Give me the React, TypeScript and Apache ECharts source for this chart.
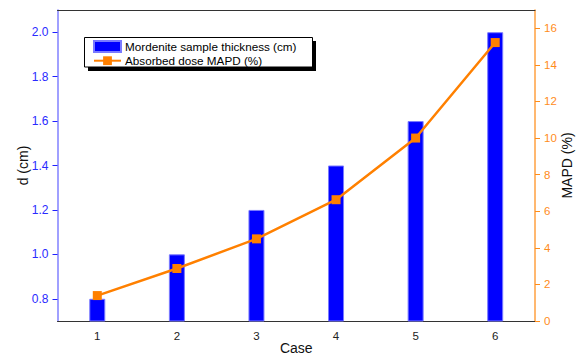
import React, { useEffect, useRef } from "react";
import * as echarts from "echarts";

const cases = ["1", "2", "3", "4", "5", "6"];
const thickness = [0.8, 1.0, 1.2, 1.4, 1.6, 2.0];
const mapd = [1.39, 2.87, 4.49, 6.63, 10.0, 15.22];
const leftTicks = [0.8, 1.0, 1.2, 1.4, 1.6, 1.8, 2.0];
const rightTicks = [0, 2, 4, 6, 8, 10, 12, 14, 16];

const FONT = "Liberation Sans, Arial, sans-serif";

export default function App() {
  const ref = useRef<HTMLDivElement>(null);
  useEffect(() => {
    if (!ref.current) return;
    const chart = echarts.init(ref.current, null, { renderer: "svg" });
    chart.setOption({
      animation: false,
      textStyle: { fontFamily: FONT },
      grid: { left: 57.5, right: 41, top: 10, bottom: 37, containLabel: false, outerBoundsMode: "none" },
      legend: {
        orient: "vertical",
        left: 84,
        top: 37,
        padding: [3, 13, 1, 9],
        itemGap: 1.7,
        itemWidth: 27,
        itemHeight: 11,
        backgroundColor: "transparent",
        borderWidth: 0,
        z: 10,
        textStyle: { fontFamily: FONT, fontSize: 11.7, color: "#000", padding: [0, 0, 0, -1] },
        data: [
          { name: "Mordenite sample thickness (cm)", icon: "rect" },
          { name: "Absorbed dose MAPD (%)" },
        ],
      },
      graphic: [
        {
          type: "rect",
          shape: { x: 88, y: 41, width: 228, height: 30 },
          style: { fill: "#000" },
          z: 5,
        },
        {
          type: "rect",
          shape: { x: 84.5, y: 37.5, width: 228, height: 29.5 },
          style: { fill: "#fff", stroke: "#000", lineWidth: 1 },
          z: 6,
        },
      ],
      xAxis: [
        {
          type: "category",
          data: cases,
          position: "bottom",
          name: "Case",
          nameLocation: "middle",
          nameGap: 20,
          nameMoveOverlap: false,
          nameTextStyle: { fontSize: 14, color: "#111", fontFamily: FONT },
          axisLine: { lineStyle: { color: "#333", width: 1 } },
          axisTick: { alignWithLabel: true, length: 5, lineStyle: { color: "#333" } },
          axisLabel: { fontSize: 11.5, color: "#222", margin: 9, fontFamily: FONT },
          splitLine: { show: false },
        },
        {
          type: "category",
          data: cases,
          position: "top",
          axisLine: { lineStyle: { color: "#333", width: 1 } },
          axisTick: { alignWithLabel: true, inside: true, length: 5, lineStyle: { color: "#333" } },
          axisLabel: { show: false },
          splitLine: { show: false },
        },
      ],
      yAxis: [
        {
          type: "value",
          position: "left",
          min: 0.7,
          max: 2.1,
          name: "d (cm)",
          nameLocation: "middle",
          nameRotate: 90,
          nameGap: 27.5,
          nameMoveOverlap: false,
          nameTextStyle: { fontSize: 14, color: "#111", fontFamily: FONT },
          axisLine: { show: true, lineStyle: { color: "#8080ff", width: 1.5 } },
          axisTick: { show: true, length: 5, customValues: leftTicks, lineStyle: { color: "#2020ff" } },
          axisLabel: {
            fontSize: 12,
            color: "#2a2aff",
            margin: 9,
            customValues: leftTicks,
            formatter: (v: number) => v.toFixed(1),
            fontFamily: FONT,
          },
          splitLine: { show: false },
        },
        {
          type: "value",
          position: "right",
          min: 0,
          max: 17,
          name: "MAPD (%)",
          nameLocation: "middle",
          nameRotate: 90,
          nameGap: 25,
          nameMoveOverlap: false,
          nameTextStyle: { fontSize: 14, color: "#111", fontFamily: FONT },
          axisLine: { show: true, lineStyle: { color: "#ffa040", width: 1.5 } },
          axisTick: { show: true, length: 5, customValues: rightTicks, lineStyle: { color: "#ff8c1a" } },
          axisLabel: {
            fontSize: 11.5,
            color: "#ff8c1a",
            margin: 9,
            customValues: rightTicks,
            fontFamily: FONT,
          },
          splitLine: { show: false },
        },
      ],
      series: [
        {
          name: "Mordenite sample thickness (cm)",
          type: "bar",
          xAxisIndex: 0,
          yAxisIndex: 0,
          data: thickness,
          barWidth: 16,
          clip: true,
          itemStyle: { color: "#0000ff", borderColor: "#7a7aff", borderWidth: 1 },
        },
        {
          name: "Absorbed dose MAPD (%)",
          type: "line",
          xAxisIndex: 0,
          yAxisIndex: 1,
          data: mapd,
          symbol: "rect",
          symbolSize: 9,
          lineStyle: { color: "#ff8000", width: 2.5 },
          itemStyle: { color: "#ff8000", borderWidth: 0 },
          z: 3,
        },
      ],
    });
    return () => chart.dispose();
  }, []);
  return <div ref={ref} style={{ width: 576, height: 358, position: "absolute", left: 0, top: 0 }} />;
}
